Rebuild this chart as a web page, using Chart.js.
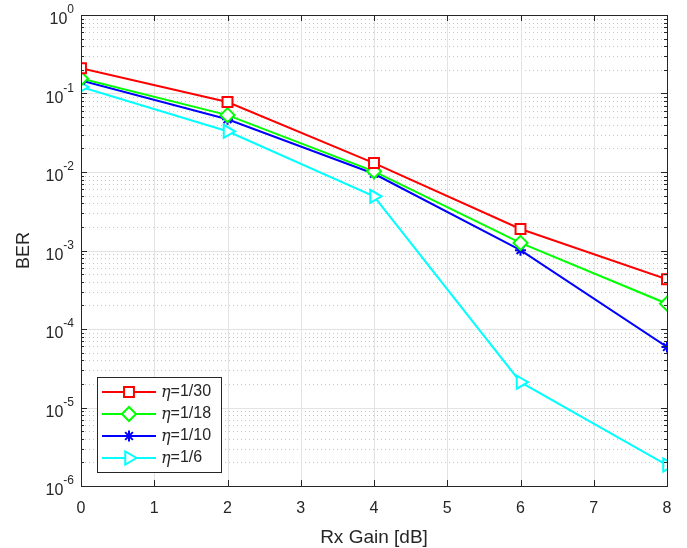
<!DOCTYPE html>
<html>
<head>
<meta charset="utf-8">
<title>BER vs Rx Gain</title>
<script src="https://cdn.jsdelivr.net/npm/chart.js@4.4.1/dist/chart.umd.min.js"></script>
<style>
  html, body { margin: 0; padding: 0; background: #ffffff; }
  #wrap { width: 687px; height: 548px; position: relative; }
</style>
</head>
<body>
<div id="wrap"><canvas id="myChart" width="687" height="548"></canvas></div>
<script>
// data
const gain = [0, 2, 4, 6, 8];
const ber30 = [0.21, 0.078, 0.013, 0.00188, 0.00043];
const ber18 = [0.155, 0.053, 0.0102, 0.00125, 0.00021];
const ber10 = [0.147, 0.047, 0.0095, 0.00101, 0.000059];
const ber6 = [0.121, 0.033, 0.0049, 0.000021, 0.00000185];
const labels = ['1/30', '1/18', '1/10', '1/6'];
const xTicks = [0, 1, 2, 3, 4, 5, 6, 7, 8];
const yExps = [0, -1, -2, -3, -4, -5, -6];

const FONT = '"Liberation Sans", Arial, Helvetica, sans-serif';
const AXIS = '#262626';

function series(vals) {
  return vals.map(function (v, i) { return { x: gain[i], y: v }; });
}

const styles = [
  { color: '#ff0000', point: 'rect', radius: 7, rot: 0 },
  { color: '#00ff00', point: 'rectRot', radius: 7, rot: 0 },
  { color: '#0000ff', point: 'star', radius: 5.5, rot: 0 },
  { color: '#00ffff', point: 'triangle', radius: 7.5, rot: 90 }
];
const allData = [ber30, ber18, ber10, ber6];

const datasets = allData.map(function (vals, i) {
  const s = styles[i];
  return {
    label: labels[i],
    data: series(vals),
    borderColor: s.color,
    backgroundColor: s.color,
    borderWidth: 2,
    pointStyle: s.point,
    pointRadius: s.radius,
    pointRotation: s.rot,
    pointBorderWidth: 2,
    pointBackgroundColor: '#ffffff',
    pointBorderColor: s.color,
    tension: 0
  };
});

// grid, ticks and frame in the matlab style
const frame = {
  id: 'frame',
  beforeDatasetsDraw(chart) {
    const ctx = chart.ctx, a = chart.chartArea;
    const xs = chart.scales.x, ys = chart.scales.y;
    ctx.save();
    // minor y grid (dotted)
    ctx.strokeStyle = '#c8c8c8';
    ctx.lineWidth = 1;
    ctx.setLineDash([1, 3]);
    for (let e = 0; e > -6; e--) {
      for (let m = 2; m <= 9; m++) {
        const y = Math.round(ys.getPixelForValue(m * Math.pow(10, e - 1))) + 0.5;
        ctx.beginPath(); ctx.moveTo(a.left, y); ctx.lineTo(a.right, y); ctx.stroke();
      }
    }
    ctx.setLineDash([]);
    // major grid
    ctx.strokeStyle = '#e3e3e3';
    xTicks.forEach(function (t) {
      const x = Math.round(xs.getPixelForValue(t)) + 0.5;
      ctx.beginPath(); ctx.moveTo(x, a.top); ctx.lineTo(x, a.bottom); ctx.stroke();
    });
    yExps.forEach(function (e) {
      const y = Math.round(ys.getPixelForValue(Math.pow(10, e))) + 0.5;
      ctx.beginPath(); ctx.moveTo(a.left, y); ctx.lineTo(a.right, y); ctx.stroke();
    });
    ctx.restore();
  },
  afterDatasetsDraw(chart) {
    const ctx = chart.ctx, a = chart.chartArea;
    const xs = chart.scales.x, ys = chart.scales.y;
    ctx.save();
    ctx.strokeStyle = AXIS;
    ctx.lineWidth = 1;
    // inward tick marks
    xTicks.forEach(function (t) {
      const x = Math.round(xs.getPixelForValue(t)) + 0.5;
      ctx.beginPath();
      ctx.moveTo(x, a.bottom); ctx.lineTo(x, a.bottom - 6);
      ctx.moveTo(x, a.top); ctx.lineTo(x, a.top + 6);
      ctx.stroke();
    });
    for (let e = 0; e >= -6; e--) {
      const y = Math.round(ys.getPixelForValue(Math.pow(10, e))) + 0.5;
      ctx.beginPath();
      ctx.moveTo(a.left, y); ctx.lineTo(a.left + 6, y);
      ctx.moveTo(a.right, y); ctx.lineTo(a.right - 6, y);
      ctx.stroke();
      if (e > -6) {
        for (let m = 2; m <= 9; m++) {
          const ym = Math.round(ys.getPixelForValue(m * Math.pow(10, e - 1))) + 0.5;
          ctx.beginPath();
          ctx.moveTo(a.left, ym); ctx.lineTo(a.left + 3, ym);
          ctx.moveTo(a.right, ym); ctx.lineTo(a.right - 3, ym);
          ctx.stroke();
        }
      }
    }
    // box
    ctx.strokeRect(Math.round(a.left) + 0.5, Math.round(a.top) + 0.5,
      Math.round(a.right - a.left), Math.round(a.bottom - a.top));

    // tick labels
    ctx.fillStyle = AXIS;
    ctx.font = '16px ' + FONT;
    ctx.textAlign = 'center';
    ctx.textBaseline = 'middle';
    xTicks.forEach(function (t) {
      ctx.fillText(String(t), xs.getPixelForValue(t), a.bottom + 23);
    });
    yExps.forEach(function (e) {
      const y = ys.getPixelForValue(Math.pow(10, e));
      const sup = String(e);
      ctx.font = '12px ' + FONT;
      const w = ctx.measureText(sup).width;
      ctx.textAlign = 'right';
      ctx.fillText(sup, a.left - 7, y - 5);
      ctx.font = '16px ' + FONT;
      ctx.fillText('10', a.left - 7 - w, y + 5);
    });

    // axis titles
    ctx.font = '19px ' + FONT;
    ctx.textAlign = 'center';
    ctx.fillText('Rx Gain [dB]', (a.left + a.right) / 2, a.bottom + 52);
    ctx.save();
    ctx.translate(24, (a.top + a.bottom) / 2);
    ctx.rotate(-Math.PI / 2);
    ctx.font = '18px ' + FONT;
    ctx.fillText('BER', 0, 0);
    ctx.restore();

    // legend
    const lx = 97, ly = 377, lw = 124, lh = 95;
    ctx.fillStyle = '#ffffff';
    ctx.fillRect(lx, ly, lw, lh);
    ctx.strokeStyle = AXIS;
    ctx.strokeRect(lx + 0.5, ly + 0.5, lw, lh);
    chart.data.datasets.forEach(function (ds, i) {
      const y = ly + 15 + i * 22;
      ctx.strokeStyle = ds.borderColor;
      ctx.lineWidth = 2;
      ctx.beginPath(); ctx.moveTo(lx + 5, y); ctx.lineTo(lx + 59, y); ctx.stroke();
      ctx.fillStyle = '#ffffff';
      Chart.helpers.drawPoint(ctx, {
        pointStyle: ds.pointStyle, radius: ds.pointRadius,
        rotation: ds.pointRotation, borderWidth: 2
      }, lx + 32, y);
      ctx.fillStyle = AXIS;
      ctx.textAlign = 'left';
      ctx.font = 'italic 16px "DejaVu Serif", serif';
      ctx.fillText('\u03b7', lx + 64, y + 1);
      const ew = ctx.measureText('\u03b7').width;
      ctx.font = '16px ' + FONT;
      ctx.fillText('=' + ds.label, lx + 64 + ew, y);
    });
    ctx.restore();
  }
};

new Chart(document.getElementById('myChart'), {
  type: 'line',
  data: { datasets: datasets },
  options: {
    responsive: false,
    animation: false,
    layout: { padding: { left: 0, top: 15, right: 20, bottom: 0 } },
    plugins: { legend: { display: false }, tooltip: { enabled: false } },
    scales: {
      x: {
        type: 'linear', min: 0, max: 8,
        ticks: { display: false },
        grid: { display: false },
        border: { display: false },
        afterFit: function (s) { s.height = 62; }
      },
      y: {
        type: 'logarithmic', min: 1e-6, max: 1,
        ticks: { display: false },
        grid: { display: false },
        border: { display: false },
        afterFit: function (s) { s.width = 81; }
      }
    }
  },
  plugins: [frame]
});
</script>
</body>
</html>
